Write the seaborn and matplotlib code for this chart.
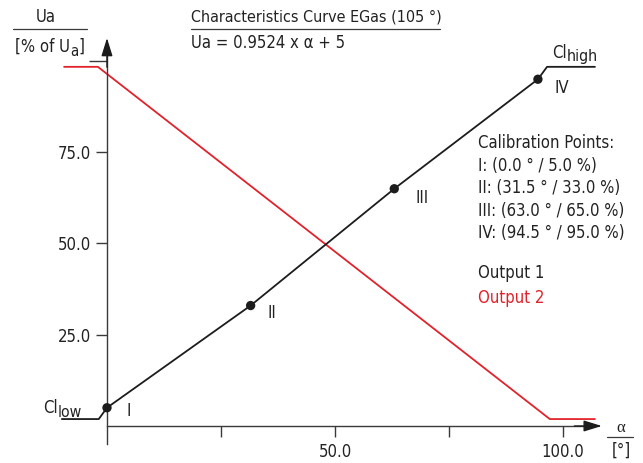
import numpy as np
import pandas as pd
import matplotlib
matplotlib.use('Agg')
import matplotlib.pyplot as plt
import seaborn as sns

# Calibration points
cal_labels = ['I', 'II', 'III', 'IV']
cal_angle = [0.0, 31.5, 63.0, 94.5]
cal_value = [5.0, 33.0, 65.0, 95.0]

# Output 1 (black) incl. clamp levels Cl_low / Cl_high
out1_angle = [-9.9, -1.8, 0.0, 31.5, 63.0, 94.5, 96.5, 107.0]
out1_value = [1.9, 1.9, 5.0, 33.0, 65.0, 95.0, 98.4, 98.4]

# Output 2 (red)
out2_angle = [-9.4, -2.0, 97.1, 107.0]
out2_value = [98.4, 98.4, 1.9, 1.9]

x_ticks = [25, 50, 75, 100]
x_ticklabels = ['', '50.0', '', '100.0']
y_ticks = [25, 50, 75]
y_ticklabels = ['25.0', '50.0', '75.0']

calib_text = ['Calibration Points:',
              'I: (0.0 ° / 5.0 %)',
              'II: (31.5 ° / 33.0 %)',
              'III: (63.0 ° / 65.0 %)',
              'IV: (94.5 ° / 95.0 %)']

RED = '#e2222b'
BLACK = '#1c1c1c'
AXIS = '#3a3a3a'
TEXT = '#222222'

sns.set_theme(style='white')
plt.rcParams['font.family'] = ['DejaVu Sans']
plt.rcParams['font.stretch'] = 'condensed'
FS = 12

W, H = 643, 463
fig = plt.figure(figsize=(W / 100, H / 100), dpi=100)
ax = fig.add_axes([0, 0, 1, 1])
ax.set_facecolor('none')
renderer = fig.canvas.get_renderer()


def px(x, y):
    # figure fraction from pixel position (top-left origin)
    return x / W, 1 - y / H


def chain(x, y, parts):
    # draw text pieces one after another: (text, size, dy_px)
    for s, size, dy in parts:
        t = fig.text(*px(x, y + dy), s, ha='left', va='baseline', fontsize=size, color=TEXT)
        x += t.get_window_extent(renderer=renderer).width


df1 = pd.DataFrame({'angle': out1_angle, 'value': out1_value})
df2 = pd.DataFrame({'angle': out2_angle, 'value': out2_value})
dfc = pd.DataFrame({'angle': cal_angle, 'value': cal_value, 'label': cal_labels})

sns.lineplot(data=df2, x='angle', y='value', sort=False, color=RED, lw=1.3, ax=ax)
sns.lineplot(data=df1, x='angle', y='value', sort=False, color=BLACK, lw=1.3, ax=ax)
sns.scatterplot(data=dfc, x='angle', y='value', color=BLACK, s=45, edgecolor='none',
                zorder=5, ax=ax)

label_offsets = [(14, -6), (12, -9), (15, -10), (12, -10)]
for (a, v, lab), off in zip(zip(cal_angle, cal_value, cal_labels), label_offsets):
    ax.annotate(lab, (a, v), xytext=off, textcoords='offset points',
                ha='left', va='baseline', fontsize=FS, color=TEXT)

# axes as arrows through the origin
ax.set_xlim(-23.46, 117.54)
ax.set_ylim(-10.14, 116.71)
x_tip, y_tip, y_bottom = 108.5, 106.3, -4.9
for side in ['top', 'right']:
    ax.spines[side].set_visible(False)
ax.spines['left'].set_position(('data', 0))
ax.spines['bottom'].set_position(('data', 0))
ax.spines['left'].set_bounds(y_bottom, y_tip - 3)
ax.spines['bottom'].set_bounds(0, x_tip - 2)
for side in ['left', 'bottom']:
    ax.spines[side].set_color(AXIS)
    ax.spines[side].set_linewidth(1.0)

arrow = dict(arrowstyle='-|>,head_length=0.55,head_width=0.17', color=BLACK,
             lw=1.0, shrinkA=0, shrinkB=0, mutation_scale=20)
ax.annotate('', xy=(0, y_tip), xytext=(0, y_tip - 8), arrowprops=arrow)
ax.annotate('', xy=(x_tip, 0), xytext=(x_tip - 6, 0), arrowprops=arrow)

ax.set_xticks(x_ticks)
ax.set_xticklabels(x_ticklabels)
ax.set_yticks(y_ticks)
ax.set_yticklabels(y_ticklabels)
ax.set_yticks([100], minor=True)
ax.tick_params(axis='both', which='major', direction='out', length=7.7, width=1.0,
               color=AXIS, labelsize=FS, labelcolor=TEXT, left=True, bottom=True)
ax.tick_params(axis='x', pad=4.8)
ax.tick_params(axis='y', pad=4.0)
ax.tick_params(axis='y', which='minor', direction='out', length=13, width=1.0,
               color=AXIS, left=True)
ax.set_xlabel('')
ax.set_ylabel('')
ax.grid(False)

# axis titles
fig.text(*px(46, 22), 'Ua', ha='center', va='baseline', fontsize=FS, color=TEXT)
fig.add_artist(plt.Line2D([13 / W, 87 / W], [1 - 29 / H] * 2, color=AXIS, lw=0.9))
chain(15, 52, [('[% of U', FS, 0), ('a', FS * 0.9, 4), (']', FS, 0)])

fig.text(*px(621, 432), 'α', ha='center', va='baseline', fontsize=FS,
         color=TEXT, family=['Liberation Serif', 'DejaVu Serif'])
fig.add_artist(plt.Line2D([607 / W, 633 / W], [1 - 437 / H] * 2, color=AXIS, lw=0.9))
fig.text(*px(621, 456), '[°]', ha='center', va='baseline', fontsize=FS, color=TEXT)

# heading
fig.text(*px(191, 22), 'Characteristics Curve EGas (105 °)', ha='left', va='baseline',
         fontsize=FS * 0.96, color=TEXT)
fig.add_artist(plt.Line2D([191 / W, 440 / W], [1 - 29 / H] * 2, color=AXIS, lw=0.9))
fig.text(*px(191, 48), 'Ua = 0.9524 x α + 5', ha='left', va='baseline',
         fontsize=FS, color=TEXT)

# clamp labels
chain(43, 413, [('Cl', FS, 0), ('low', FS * 0.95, 4)])
chain(552, 58, [('Cl', FS, 0), ('high', FS * 0.95, 3)])

# calibration block
for i, line in enumerate(calib_text):
    fig.text(*px(478, 148 + 22.6 * i), line, ha='left', va='baseline',
             fontsize=FS, color=TEXT)
fig.text(*px(478, 278), 'Output 1', ha='left', va='baseline', fontsize=FS, color=TEXT)
fig.text(*px(478, 303), 'Output 2', ha='left', va='baseline', fontsize=FS, color=RED)

fig.savefig('out.png', dpi=100)
